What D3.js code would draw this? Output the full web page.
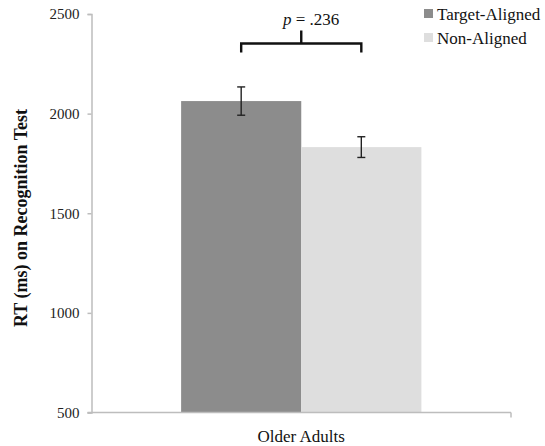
<!DOCTYPE html>
<html>
<head>
<meta charset="utf-8">
<script src="https://cdn.jsdelivr.net/npm/d3@7"></script>
<style>
  html, body { margin: 0; padding: 0; background: #fff; }
  svg { display: block; }
</style>
</head>
<body>
<svg id="chart" width="545" height="446"></svg>
<script>
// Data
const groups = ["Older Adults"];
const conditions = ["Target-Aligned", "Non-Aligned"];
const meanRT = [2063, 1832];
const seRT = [71, 52];
const yTicks = [500, 1000, 1500, 2000, 2500];
const pLabel = ".236";
const colors = ["#8c8c8c", "#dedede"];

(function () {
  const serif = "'Liberation Serif', 'Times New Roman', Times, serif";
  const svg = d3.select("#chart");
  const plotLeft = 91.5, plotRight = 511, plotTop = 14, plotBottom = 412.5;

  const x = d3.scaleBand().domain(groups).range([plotLeft, plotRight]).paddingInner(0).paddingOuter(0.373);
  const xSub = d3.scaleBand().domain(conditions).range([0, x.bandwidth()]);
  const y = d3.scaleLinear().domain([500, 2500]).range([plotBottom, plotTop]);

  const axisColor = "#bdbdbd";
  const txt = sel => sel.style("font-family", serif).attr("fill", "#111");

  // Bars
  const g = svg.append("g");
  conditions.forEach((c, i) => {
    g.append("rect")
      .attr("x", x(groups[0]) + xSub(c))
      .attr("y", y(meanRT[i]))
      .attr("width", xSub.bandwidth())
      .attr("height", y(500) - y(meanRT[i]))
      .attr("fill", colors[i]);
  });

  // Y axis
  const yAxis = svg.append("g")
    .attr("transform", `translate(${plotLeft},0)`)
    .call(d3.axisLeft(y).tickValues(yTicks).tickSize(4).tickPadding(8).tickFormat(d3.format("d")));
  yAxis.attr("font-family", serif);
  yAxis.select(".domain").attr("stroke", axisColor).attr("stroke-width", 1.5);
  yAxis.selectAll(".tick line").attr("stroke", axisColor).attr("stroke-width", 1.5);
  yAxis.selectAll(".tick text").attr("font-size", 15).call(txt).attr("fill", "#222");

  // X axis
  const xAxisLine = svg.append("g");
  xAxisLine.append("line")
    .attr("x1", plotLeft - 4).attr("x2", plotRight)
    .attr("y1", y(500)).attr("y2", y(500))
    .attr("stroke", axisColor).attr("stroke-width", 1.5);
  xAxisLine.append("line")
    .attr("x1", plotRight).attr("x2", plotRight)
    .attr("y1", y(500)).attr("y2", y(500) + 5)
    .attr("stroke", axisColor).attr("stroke-width", 1.5);

  svg.append("text")
    .attr("x", x(groups[0]) + x.bandwidth() / 2)
    .attr("y", 442)
    .attr("text-anchor", "middle")
    .attr("font-size", 17)
    .call(txt)
    .text(groups[0]);

  // Y title
  svg.append("text")
    .attr("transform", `translate(27,218) rotate(-90)`)
    .attr("text-anchor", "middle")
    .attr("font-size", 18)
    .attr("font-weight", "bold")
    .call(txt)
    .text("RT (ms) on Recognition Test");

  // Error bars
  conditions.forEach((c, i) => {
    const cx = x(groups[0]) + xSub(c) + xSub.bandwidth() / 2;
    const eg = svg.append("g").attr("stroke", "#222").attr("stroke-width", 1.4);
    eg.append("line").attr("x1", cx).attr("x2", cx).attr("y1", y(meanRT[i] + seRT[i])).attr("y2", y(meanRT[i] - seRT[i]));
    [meanRT[i] + seRT[i], meanRT[i] - seRT[i]].forEach(v => {
      eg.append("line").attr("x1", cx - 4).attr("x2", cx + 4).attr("y1", y(v)).attr("y2", y(v));
    });
  });

  // Significance bracket
  const bx1 = x(groups[0]) + xSub(conditions[0]) + xSub.bandwidth() / 2;
  const bx2 = x(groups[0]) + xSub(conditions[1]) + xSub.bandwidth() / 2;
  const by = 43.5;
  svg.append("path")
    .attr("d", `M${bx1},${by + 9}V${by}H${bx2}V${by + 9}M${(bx1 + bx2) / 2},${by}V${by - 13}`)
    .attr("fill", "none").attr("stroke", "#111").attr("stroke-width", 2.4);
  const pt = svg.append("text")
    .attr("x", 283)
    .attr("y", 25)
    .attr("font-size", 17)
    .call(txt);
  pt.append("tspan").attr("font-style", "italic").text("p");
  pt.append("tspan").text(" = " + pLabel);

  // Legend
  const lg = svg.append("g");
  conditions.forEach((c, i) => {
    lg.append("rect").attr("x", 424).attr("y", 9 + i * 24).attr("width", 9).attr("height", 9).attr("fill", colors[i]);
    lg.append("text").attr("x", 437).attr("y", 20 + i * 24).attr("font-size", 17).call(txt).text(c);
  });
})();
</script>
</body>
</html>
